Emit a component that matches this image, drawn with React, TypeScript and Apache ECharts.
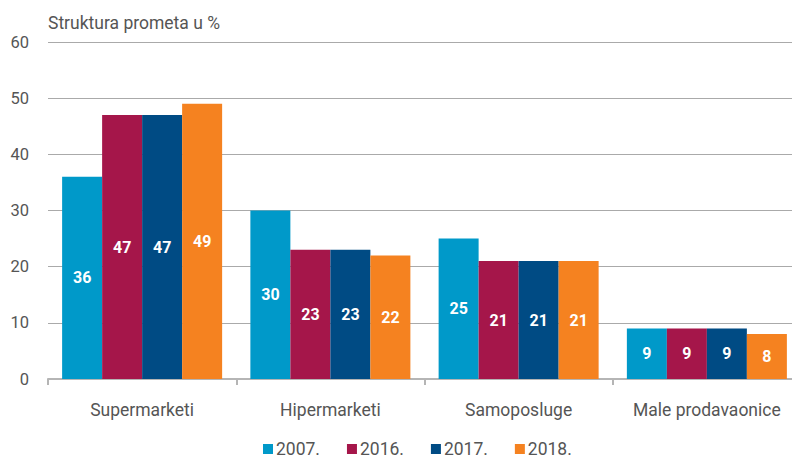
import React, { useEffect, useRef } from "react";
import * as echarts from "echarts";

const categories = ["Supermarketi", "Hipermarketi", "Samoposluge", "Male prodavaonice"];
const seriesNames = ["2007.", "2016.", "2017.", "2018."];
const values2007 = [36, 30, 25, 9];
const values2016 = [47, 23, 21, 9];
const values2017 = [47, 23, 21, 9];
const values2018 = [49, 22, 21, 8];
const colors = ["#0099c9", "#a5164a", "#004b84", "#f58220"];
const title = "Struktura prometa u %";

export default function App() {
  const ref = useRef<HTMLDivElement>(null);
  useEffect(() => {
    if (!ref.current) return;
    const chart = echarts.init(ref.current, null, { renderer: "svg" });
    const data = [values2007, values2016, values2017, values2018];
    chart.setOption({
      animation: false,
      textStyle: { fontFamily: "Roboto" },
      title: {
        text: title,
        left: 43,
        top: 9,
        textStyle: { fontSize: 17.5, fontWeight: "normal", color: "#555", fontFamily: "Roboto" },
      },
      legend: {
        bottom: -2,
        left: 258,
        itemWidth: 10,
        itemHeight: 10,
        itemGap: 27,
        icon: "rect",
        textStyle: { fontSize: 17.5, color: "#555", fontFamily: "Roboto", padding: [0, 0, 0, -2] },
        data: seriesNames,
      },
      grid: { left: 48, right: 0, top: 42, bottom: 82, containLabel: false },
      xAxis: {
        type: "category",
        data: categories,
        axisLine: { lineStyle: { color: "#b5b5b5", width: 2 } },
        axisTick: { show: true, interval: 0, length: 6, lineStyle: { color: "#b5b5b5", width: 2 } },
        axisLabel: { interval: 0, fontSize: 17.5, color: "#555", margin: 22 },
      },
      yAxis: {
        type: "value",
        min: 0,
        max: 60,
        interval: 10,
        axisLine: { show: false },
        axisTick: { show: false },
        axisLabel: { fontSize: 16.5, color: "#555", margin: 19 },
        splitLine: { lineStyle: { color: "#aaa", width: 1 } },
      },
      series: seriesNames.map((name, i) => ({
        name,
        type: "bar",
        data: data[i],
        barGap: "0%",
        barCategoryGap: "15%",
        itemStyle: { color: colors[i] },
        label: {
          show: true,
          position: "inside",
          color: "#fff",
          fontWeight: "bold",
          fontSize: 16,
          fontFamily: "Roboto",
        },
      })),
    });
    return () => chart.dispose();
  }, []);
  return (
    <div style={{ position: "fixed", left: 0, top: 0, width: 792, height: 461, overflow: "hidden", background: "#fff" }}>
      <div ref={ref} style={{ width: 801, height: 461 }} />
    </div>
  );
}
